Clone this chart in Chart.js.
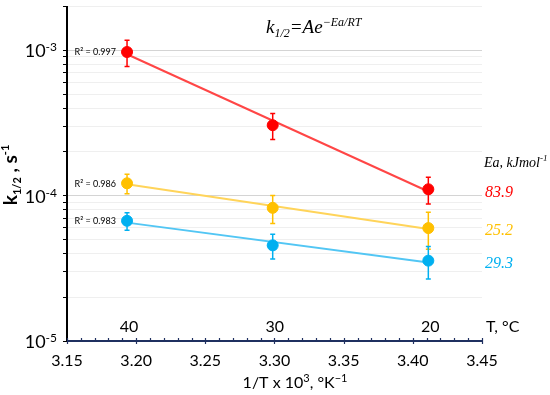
<!DOCTYPE html>
<html>
<head>
<meta charset="utf-8">
<script src="https://cdn.jsdelivr.net/npm/chart.js@4"></script>
<style>
  html, body { margin: 0; padding: 0; background: #fff; }
  #wrap { width: 550px; height: 395px; }
</style>
</head>
<body>
<div id="wrap"><canvas id="graphic-arrhenius" width="550" height="395"></canvas></div>
<script>
// 1/T x 10^3 for 40, 30, 20 °C
const invT = [3.1934, 3.2987, 3.4112];
const tempLabels = ['40', '30', '20'];

const redK = [9.73e-4, 3.05e-4, 1.106e-4];
const redErr = [2.0e-4, 0.62e-4, 0.23e-4];
const redFit = [9.39e-4, 1.068e-4];

const yellowK = [1.216e-4, 8.24e-5, 5.98e-5];
const yellowErr = [1.85e-5, 1.8e-5, 1.7e-5];
const yellowFit = [1.197e-4, 5.89e-5];

const blueK = [6.71e-5, 4.55e-5, 3.57e-5];
const blueErr = [0.93e-5, 0.88e-5, 0.9e-5];
const blueFit = [6.52e-5, 3.47e-5];

const r2Labels = ['R² = 0.997', 'R² = 0.986', 'R² = 0.983'];
const eaLabels = ['83.9', '25.2', '29.3'];

const yGridValues = [
  1e-5, 2e-5, 3e-5, 4e-5, 5e-5, 6e-5, 7e-5, 8e-5, 9e-5,
  1e-4, 2e-4, 3e-4, 4e-4, 5e-4, 6e-4, 7e-4, 8e-4, 9e-4,
  1e-3, 2e-3
];
const yLabelValues = [1e-5, 1e-4, 1e-3];
const yLabelExps = ['-5', '-4', '-3'];

const RED = '#ff0000', RED_LINE = '#ff4646';
const YEL = '#ffc000', YEL_LINE = '#ffd45a';
const BLU = '#00b0f0', BLU_LINE = '#52c6f4';
const NAVY = '#1f3060';

const series = [
  { k: redK, err: redErr, fit: redFit, color: RED, line: RED_LINE, r2: r2Labels[0], ea: eaLabels[0] },
  { k: yellowK, err: yellowErr, fit: yellowFit, color: YEL, line: YEL_LINE, r2: r2Labels[1], ea: eaLabels[1] },
  { k: blueK, err: blueErr, fit: blueFit, color: BLU, line: BLU_LINE, r2: r2Labels[2], ea: eaLabels[2] }
];

const pts = arr => arr.map((v, i) => ({ x: invT[i], y: v }));
const fitPts = arr => [{ x: invT[0], y: arr[0] }, { x: invT[2], y: arr[1] }];

var datasets = [];
series.forEach(s => {
  datasets.push({
    data: fitPts(s.fit),
    showLine: true,
    borderColor: s.line,
    borderWidth: 2,
    pointRadius: 0,
    order: 2
  });
});
series.forEach(s => {
  datasets.push({
    data: pts(s.k),
    showLine: false,
    backgroundColor: s.color,
    borderColor: s.color,
    pointRadius: 5.5,
    order: 1
  });
});

// draw pieces of text with sub/superscripts, left to right
function drawRich(ctx, parts, x, y) {
  var cx = x;
  parts.forEach(p => {
    ctx.font = p.font;
    ctx.fillText(p.t, cx, y + (p.dy || 0));
    cx += ctx.measureText(p.t).width;
  });
  return cx;
}
function richWidth(ctx, parts) {
  var w = 0;
  parts.forEach(p => { ctx.font = p.font; w += ctx.measureText(p.t).width; });
  return w;
}

const errorBars = {
  id: 'errorBars',
  afterDatasetsDraw(chart) {
    const ctx = chart.ctx, xs = chart.scales.x, ys = chart.scales.y;
    ctx.save();
    series.forEach(s => {
      ctx.strokeStyle = s.color;
      ctx.lineWidth = 1.5;
      s.k.forEach((v, i) => {
        const px = xs.getPixelForValue(invT[i]);
        const top = ys.getPixelForValue(v + s.err[i]);
        const bot = ys.getPixelForValue(v - s.err[i]);
        ctx.beginPath();
        ctx.moveTo(px, top); ctx.lineTo(px, bot);
        ctx.moveTo(px - 2.5, top); ctx.lineTo(px + 2.5, top);
        ctx.moveTo(px - 2.5, bot); ctx.lineTo(px + 2.5, bot);
        ctx.stroke();
      });
    });
    ctx.restore();
  }
};

const annotations = {
  id: 'annotations',
  afterDraw(chart) {
    const ctx = chart.ctx, xs = chart.scales.x, ys = chart.scales.y;
    ctx.save();

    // x tick marks crossing the axis line
    ctx.strokeStyle = NAVY;
    ctx.lineWidth = 1.2;
    xs.ticks.forEach(t => {
      const px = Math.round(xs.getPixelForValue(t.value)) + 0.5;
      const major = Math.round(t.value * 100) % 5 === 0;
      ctx.beginPath();
      ctx.moveTo(px, xs.top - (major ? 3 : 3));
      ctx.lineTo(px, xs.top + (major ? 3 : 1));
      ctx.stroke();
    });

    ctx.fillStyle = '#000';
    ctx.textBaseline = 'alphabetic';

    // y tick labels 10^n
    yLabelValues.forEach((v, i) => {
      const py = ys.getPixelForValue(v);
      ctx.font = '12px Lato';
      const supW = ctx.measureText(yLabelExps[i]).width;
      ctx.font = '18px Lato';
      const baseW = ctx.measureText('10').width;
      const x0 = 57 - supW - baseW;
      ctx.textAlign = 'left';
      ctx.fillText('10', x0, py + 7);
      ctx.font = '12px Lato';
      ctx.fillText(yLabelExps[i], x0 + baseW, py + 1);
    });

    // y axis title
    ctx.save();
    ctx.translate(17, 175);
    ctx.rotate(-Math.PI / 2);
    const yTitle = [
      { t: 'k', font: 'bold 19px Lato' },
      { t: '1/2', font: 'bold 11px Lato', dy: 4 },
      { t: ' , s', font: 'bold 19px Lato' },
      { t: '-1', font: 'bold 11px Lato', dy: -8 }
    ];
    drawRich(ctx, yTitle, -richWidth(ctx, yTitle) / 2, 0);
    ctx.restore();

    // x axis title
    const xTitle = [
      { t: '1/T x 10', font: '16px Lato' },
      { t: '3', font: '11px Lato', dy: -6 },
      { t: ', °K', font: '16px Lato' },
      { t: '\u22121', font: '11px Lato', dy: -6 }
    ];
    drawRich(ctx, xTitle, 295 - richWidth(ctx, xTitle) / 2, 388);

    // temperature labels above the axis
    ctx.font = '16px Lato';
    ctx.textAlign = 'center';
    ctx.textBaseline = 'middle';
    tempLabels.forEach((t, i) => {
      ctx.fillText(t, xs.getPixelForValue(invT[i]) + 2, 327);
    });
    ctx.textAlign = 'left';
    ctx.fillText('T, °C', 486, 327);

    // R² labels
    ctx.font = '9px Lato';
    ctx.textAlign = 'right';
    series.forEach(s => {
      ctx.fillText(s.r2, 116, ys.getPixelForValue(s.k[0]) + 0.5);
    });

    // formula
    ctx.textAlign = 'left';
    ctx.textBaseline = 'alphabetic';
    const formula = [
      { t: 'k', font: 'italic 19px "Liberation Serif"' },
      { t: '1/2', font: 'italic 12px "Liberation Serif"', dy: 4 },
      { t: '=Ae', font: 'italic 19px "Liberation Serif"' },
      { t: '\u2212Ea/RT', font: 'italic 12px "Liberation Serif"', dy: -7 }
    ];
    drawRich(ctx, formula, 266, 33);

    // Ea column
    drawRich(ctx, [
      { t: 'Ea, kJmol', font: 'italic 14px "Liberation Serif"' },
      { t: '-1', font: 'italic 9px "Liberation Serif"', dy: -6 }
    ], 484, 167);
    ctx.font = 'italic 16px "Liberation Serif"';
    series.forEach(s => {
      ctx.fillStyle = s.color;
      ctx.fillText(s.ea, 485, ys.getPixelForValue(s.fit[1]) + 6);
    });
    ctx.restore();
  }
};

new Chart(document.getElementById('graphic-arrhenius'), {
  type: 'scatter',
  data: { datasets: datasets },
  options: {
    responsive: false,
    maintainAspectRatio: false,
    animation: false,
    layout: { padding: { top: 6, right: 68, left: 0, bottom: 0 } },
    plugins: {
      legend: { display: false },
      tooltip: { enabled: false }
    },
    scales: {
      x: {
        type: 'linear',
        min: 3.15,
        max: 3.45,
        afterFit: scale => { scale.height = 54; },
        border: { display: true, color: NAVY, width: 2 },
        grid: { drawOnChartArea: false, drawTicks: true, tickLength: 4, tickColor: 'rgba(0,0,0,0)' },
        ticks: {
          stepSize: 0.01,
          autoSkip: false,
          maxRotation: 0,
          padding: 6,
          color: '#000',
          font: { family: 'Lato', size: 16 },
          callback: v => (Math.round(v * 100) % 5 === 0 ? v.toFixed(2) : '')
        }
      },
      y: {
        type: 'logarithmic',
        min: 1e-5,
        max: 2e-3,
        afterFit: scale => { scale.width = 67; },
        afterBuildTicks: scale => { scale.ticks = yGridValues.map(v => ({ value: v })); },
        border: { display: true, color: '#000', width: 2 },
        grid: {
          color: ctx => (ctx.tick && (ctx.tick.value === 1e-3 || ctx.tick.value === 1e-4) ? '#d4d4d4' : '#efefef'),
          lineWidth: 1,
          tickLength: 4,
          tickColor: '#000'
        },
        ticks: { display: false }
      }
    }
  },
  plugins: [errorBars, annotations]
});
</script>
</body>
</html>
